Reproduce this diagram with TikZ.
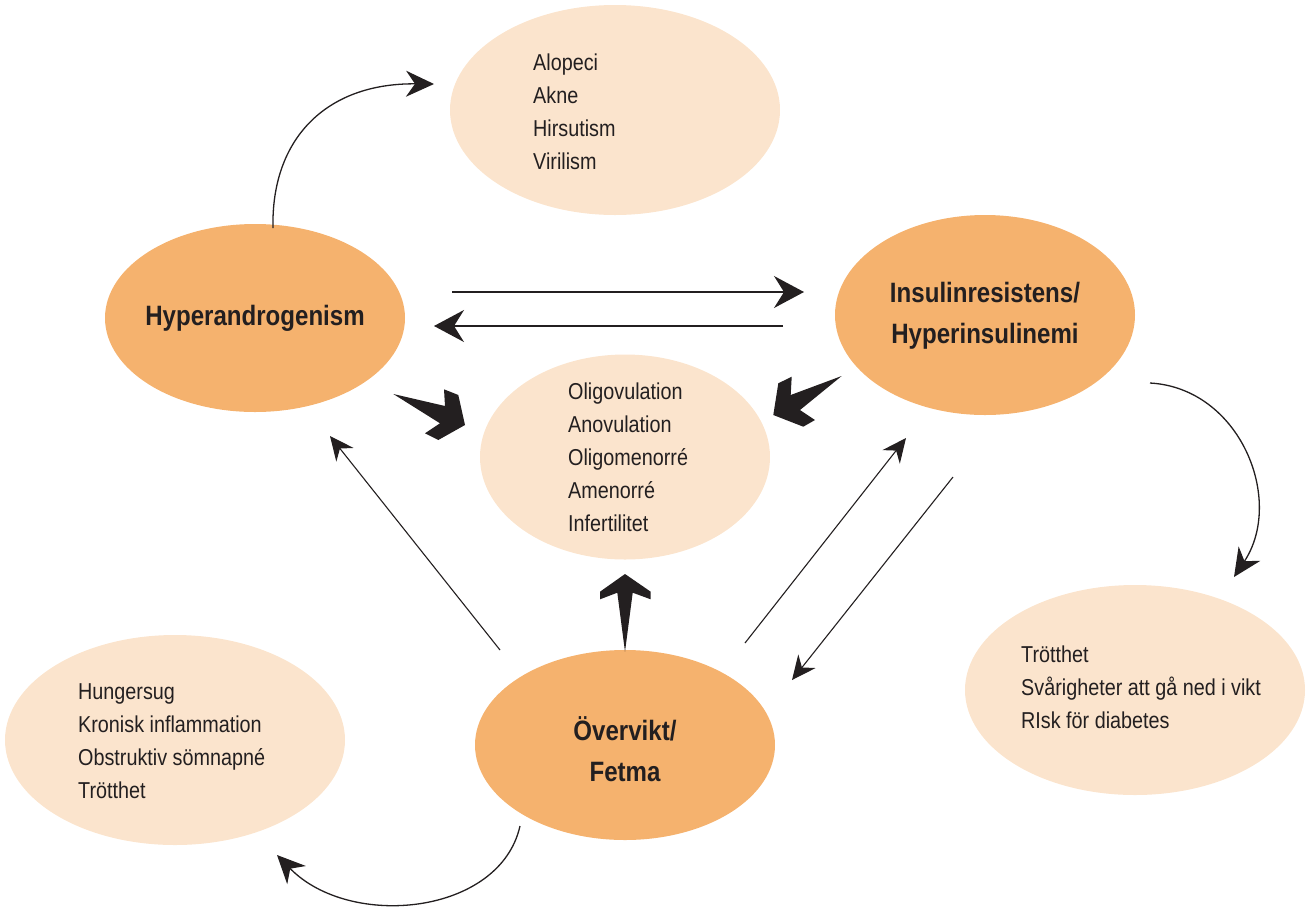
\documentclass[tikz,border=0pt]{standalone}
\usepackage{fontspec}
\setmainfont{Liberation Sans}[FakeStretch=0.86]
\usetikzlibrary{shapes.geometric,arrows.meta}
\definecolor{peach}{RGB}{251,228,205}
\definecolor{orangeb}{RGB}{245,178,110}
\definecolor{ink}{RGB}{35,31,32}
\tikzset{
  lightell/.style={ellipse, fill=peach, draw=none, inner sep=0pt},
  mainell/.style={ellipse, fill=orangeb, draw=none, inner sep=0pt},
  listtxt/.style={anchor=north west, inner sep=0pt, align=left, font=\fontsize{23}{33}\selectfont, text=ink},
  boldtxt/.style={inner sep=0pt, align=center, font=\fontsize{28}{41}\selectfont\bfseries, text=ink},
  bighead/.style={-{Stealth[length=30pt,width=32pt,inset=10pt]}, line width=1.4pt, draw=ink},
  midhead/.style={-{Stealth[length=28pt,width=26pt,inset=9pt]}, line width=1.3pt, draw=ink},
  smallhead/.style={-{Stealth[length=24pt,width=22pt,inset=8pt]}, line width=1.1pt, draw=ink},
  chevron/.style={fill=ink, draw=none}
}
\begin{document}
\begin{tikzpicture}[x=1pt,y=-1pt]
\useasboundingbox (0,0) rectangle (1307,914);
% ellipses
\node[lightell, minimum width=330pt, minimum height=210pt] (sym) at (615,110) {};
\node[mainell, minimum width=300pt, minimum height=188pt] (hyp) at (255,318) {};
\node[mainell, minimum width=300pt, minimum height=200pt] (ins) at (985,315) {};
\node[lightell, minimum width=290pt, minimum height=205pt] (ovu) at (625,457) {};
\node[mainell, minimum width=300pt, minimum height=190pt] (ove) at (625,745) {};
\node[lightell, minimum width=340pt, minimum height=210pt] (lft) at (175,740) {};
\node[lightell, minimum width=340pt, minimum height=210pt] (rgt) at (1135,690) {};
% texts
\node[listtxt] (symt) at (533,54) {Alopeci\\Akne\\Hirsutism\\Virilism};
\node[listtxt] (ovut) at (568,383) {Oligovulation\\Anovulation\\Oligomenorré\\Amenorré\\Infertilitet};
\node[listtxt] (lftt) at (78,683) {Hungersug\\Kronisk inflammation\\Obstruktiv sömnapné\\Trötthet};
\node[listtxt] (rgtt) at (1021,646) {Trötthet\\Svårigheter att gå ned i vikt\\RIsk för diabetes};
\node[boldtxt] (hypt) at (255,318) {Hyperandrogenism};
\node[boldtxt] (inst) at (985,316) {Insulinresistens/\\Hyperinsulinemi};
\node[boldtxt] (ovet) at (625,749) {Övervikt/\\Fetma};
% connector end coordinates
\coordinate (a1) at (273,228);
\coordinate (a2) at (434,84);
\coordinate (b1) at (452,292);
\coordinate (b2) at (804,292);
\coordinate (c1) at (783,326);
\coordinate (c2) at (434,326);
\coordinate (d1) at (1150,383);
\coordinate (d2) at (1234,577);
\coordinate (e1) at (520,826);
\coordinate (e2) at (277,855);
\coordinate (f1) at (500,650);
\coordinate (f2) at (330,436);
\coordinate (g1) at (745,643);
\coordinate (g2) at (906,438);
\coordinate (h1) at (953,477);
\coordinate (h2) at (792,680);
% connectors
\draw[midhead] (a1) .. controls (271,140) and (325,83) .. (a2);
\draw[bighead] (b1) -- (b2);
\draw[bighead] (c1) -- (c2);
\draw[midhead] (d1) .. controls (1240,388) and (1285,500) .. (d2);
\draw[midhead] (e1) .. controls (500,915) and (350,930) .. (e2);
\draw[smallhead] (f1) -- (f2);
\draw[smallhead] (g1) -- (g2);
\draw[smallhead] (h1) -- (h2);
% big chevron arrows
\fill[chevron] (393.3,394) -- (445,406) -- (444,389.3) -- (458.3,395) -- (465,425) -- (438.3,440) -- (425,433.3) -- (440,423.3) -- cycle;
\fill[chevron] (841.7,376) -- (790.7,395) -- (791.7,376.7) -- (778.3,383.3) -- (773.3,415) -- (803.3,426.7) -- (815,420) -- (800,410) -- cycle;
\fill[chevron] (625,574) -- (650.7,591.7) -- (650.7,599.3) -- (632.7,592.7) -- (625,651.7) -- (617.3,592.7) -- (600,599.3) -- (600,591.7) -- cycle;
\end{tikzpicture}
\end{document}
